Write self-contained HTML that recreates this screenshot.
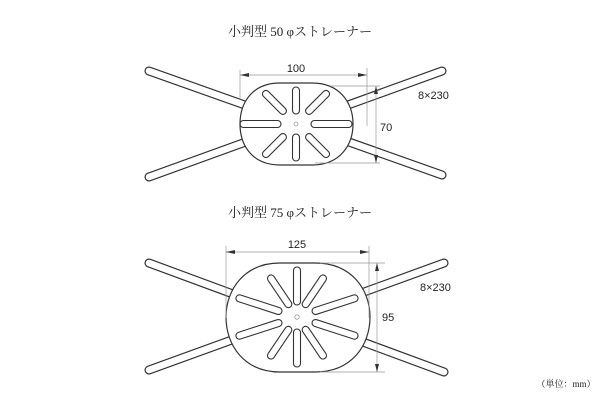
<!DOCTYPE html>
<html><head><meta charset="utf-8"><style>
body{margin:0;background:#fff}
svg{display:block}
text{font-family:"Liberation Sans",sans-serif;fill:#222}
.t{font-family:"Liberation Serif","Noto Serif CJK SC",serif;font-size:13px}
</style></head><body>
<svg width="600" height="400" viewBox="0 0 600 400" xmlns="http://www.w3.org/2000/svg">
<text class="t" x="300" y="36" text-anchor="middle">小判型 50 φストレーナー</text>
<text class="t" x="300" y="217" text-anchor="middle">小判型 75 φストレーナー</text>
<text x="566" y="387" text-anchor="middle" style="font-family:'Liberation Serif','Noto Serif CJK SC',serif;font-size:9px">（単位：mm）</text>

<g stroke-linecap="round">
<line x1="149" y1="71" x2="442" y2="175" stroke="#333" stroke-width="9"/>
<line x1="149" y1="71" x2="442" y2="175" stroke="#fff" stroke-width="6.6"/>
<line x1="442" y1="71" x2="149" y2="177" stroke="#333" stroke-width="9"/>
<line x1="442" y1="71" x2="149" y2="177" stroke="#fff" stroke-width="6.6"/>
<line x1="149" y1="263" x2="444" y2="372" stroke="#333" stroke-width="9"/>
<line x1="149" y1="263" x2="444" y2="372" stroke="#fff" stroke-width="6.6"/>
<line x1="444" y1="263" x2="149" y2="370" stroke="#333" stroke-width="9"/>
<line x1="444" y1="263" x2="149" y2="370" stroke="#fff" stroke-width="6.6"/>
</g>

<path d="M280,83 H312 C340,83 353,103 353,124 C353,145 340,165 312,165 H280 C252,165 240,145 240,124 C240,103 252,83 280,83 Z" fill="#fff" stroke="#333" stroke-width="1.2"/>
<g transform="translate(296,124)" fill="none" stroke="#333" stroke-width="1.1">
<rect x="15" y="-3.5" width="41" height="7" rx="3.5"/>
<rect x="-56" y="-3.5" width="41" height="7" rx="3.5"/>
<rect x="-3.5" y="-37" width="7" height="27" rx="3.5"/>
<rect x="-3.5" y="10" width="7" height="27" rx="3.5"/>
<rect x="15" y="-3.5" width="31" height="7" rx="3.5" transform="rotate(-45)"/>
<rect x="15" y="-3.5" width="31" height="7" rx="3.5" transform="rotate(-135)"/>
<rect x="15" y="-3.5" width="31" height="7" rx="3.5" transform="rotate(45)"/>
<rect x="15" y="-3.5" width="31" height="7" rx="3.5" transform="rotate(135)"/>
<circle r="2" stroke="#999" stroke-width="0.8"/>
</g>
<g stroke="#999" stroke-width="0.7" fill="none">
<line x1="240" y1="70" x2="240" y2="100"/>
<line x1="367" y1="68" x2="367" y2="126"/>
<line x1="240" y1="75" x2="367" y2="75"/>
<line x1="330" y1="86" x2="380" y2="86"/>
<line x1="315" y1="163" x2="380" y2="163"/>
<line x1="376" y1="86" x2="376" y2="163"/>
</g>
<g fill="#333">
<path d="M240,75 l9,-2 v4z"/><path d="M367,75 l-9,-2 v4z"/>
<path d="M376,86 l-2,8 h4z"/><path d="M376,163 l-2,-8 h4z"/>
</g>
<text x="296" y="72" font-size="11" text-anchor="middle">100</text>
<text x="380" y="131" font-size="11">70</text>
<text x="418" y="99" font-size="11">8×230</text>

<path d="M280,263 H315 C352,263 370,290 370,317 C370,345 352,372 315,372 H280 C244,372 226,345 226,317 C226,290 244,263 280,263 Z" fill="#fff" stroke="#333" stroke-width="1.2"/>
<g transform="translate(297,317)" fill="none" stroke="#333" stroke-width="1.1">
<rect x="12" y="-3.5" width="38" height="7" rx="3.5" transform="rotate(-90)"/>
<rect x="12" y="-3.5" width="38" height="7" rx="3.5" transform="rotate(90)"/>
<rect x="12" y="-3.5" width="38" height="7" rx="3.5" transform="rotate(-56)"/>
<rect x="12" y="-3.5" width="38" height="7" rx="3.5" transform="rotate(-124)"/>
<rect x="12" y="-3.5" width="38" height="7" rx="3.5" transform="rotate(56)"/>
<rect x="12" y="-3.5" width="38" height="7" rx="3.5" transform="rotate(124)"/>
<rect x="16" y="-3.5" width="48" height="7" rx="3.5" transform="rotate(-18)"/>
<rect x="16" y="-3.5" width="48" height="7" rx="3.5" transform="rotate(-162)"/>
<rect x="16" y="-3.5" width="48" height="7" rx="3.5" transform="rotate(18)"/>
<rect x="16" y="-3.5" width="48" height="7" rx="3.5" transform="rotate(162)"/>
<circle r="2.2" stroke="#999" stroke-width="0.8"/>
</g>
<g stroke="#999" stroke-width="0.7" fill="none">
<line x1="226" y1="246" x2="226" y2="318"/>
<line x1="369" y1="246" x2="369" y2="318"/>
<line x1="226" y1="252" x2="369" y2="252"/>
<line x1="320" y1="263" x2="385" y2="263"/>
<line x1="320" y1="372" x2="385" y2="372"/>
<line x1="377" y1="263" x2="377" y2="372"/>
</g>
<g fill="#333">
<path d="M226,252 l9,-2 v4z"/><path d="M369,252 l-9,-2 v4z"/>
<path d="M377,263 l-2,8 h4z"/><path d="M377,372 l-2,-8 h4z"/>
</g>
<text x="297" y="248" font-size="11" text-anchor="middle">125</text>
<text x="382" y="321" font-size="11">95</text>
<text x="420" y="291" font-size="11">8×230</text>
</svg>
</body></html>
